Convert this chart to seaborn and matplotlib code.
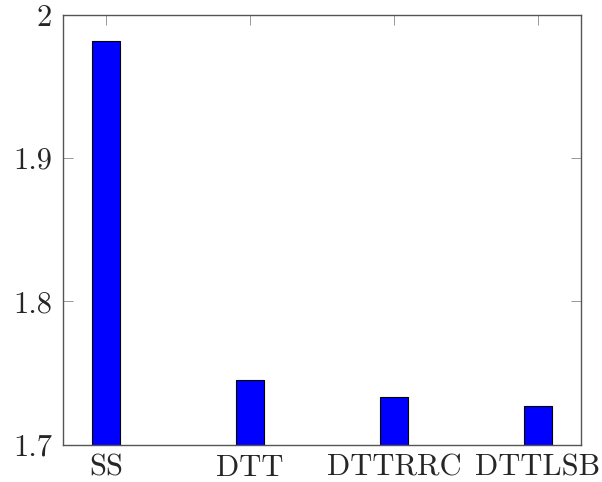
import matplotlib
matplotlib.use("Agg")
import matplotlib.pyplot as plt
import seaborn as sns
import pandas as pd

methods = ["SS", "DTT", "DTTRRC", "DTTLSB"]
scores = [1.982, 1.745, 1.733, 1.727]
y_ticks = [1.7, 1.8, 1.9, 2.0]
y_tick_labels = ["1.7", "1.8", "1.9", "2"]

sns.set_style("ticks")
plt.rcParams['font.family'] = ['cmr10', 'DejaVu Serif']
plt.rcParams['axes.unicode_minus'] = False

df = pd.DataFrame({"method": methods, "score": scores})

fig = plt.figure(figsize=(6.02, 4.82), dpi=100)
ax = fig.add_axes([63 / 602, 1 - 444.7 / 482, (581 - 63) / 602, (444.7 - 15) / 482])

sns.barplot(data=df, x="method", y="score", order=methods, color="#0000ff",
            saturation=1, width=0.19, edgecolor="black", linewidth=0.8, ax=ax)

ax.set_xlim(-0.3, 3.3)
ax.set_ylim(1.7, 2.0)
ax.set_yticks(y_ticks)
ax.set_yticklabels(y_tick_labels)
ax.set_xlabel("")
ax.set_ylabel("")

for s in ax.spines.values():
    s.set_visible(True)
    s.set_color("#555555")
    s.set_linewidth(1.0)

ax.tick_params(axis="both", direction="in", length=7, width=0.6, color="#888888",
               labelsize=22, top=True, right=True)
ax.tick_params(axis="y", pad=8)
ax.tick_params(axis="x", pad=7)

fig.savefig("out.png", dpi=100)
